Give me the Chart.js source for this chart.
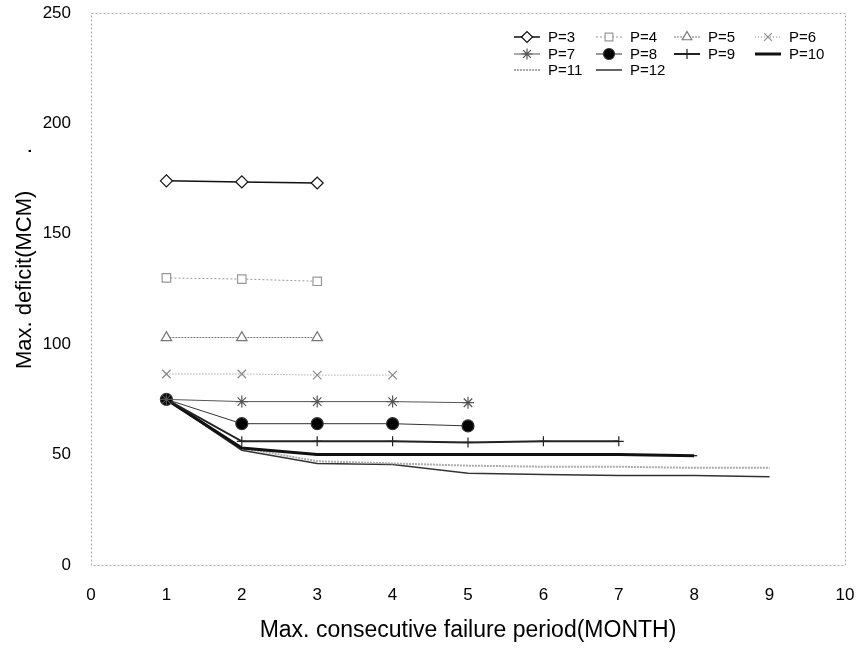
<!DOCTYPE html>
<html>
<head>
  <meta charset="utf-8">
  <title>Max. deficit</title>
  <script src="https://cdn.jsdelivr.net/npm/chart.js@4.4.0/dist/chart.umd.min.js"></script>
  <style>
    html, body { margin: 0; padding: 0; background: #ffffff; }
    #wrap { width: 861px; height: 648px; }
  </style>
</head>
<body>
<div id="wrap"><canvas id="myChart" width="861" height="648"></canvas></div>
<script>
  // months on the x axis (1..9)
  let months = [1, 2, 3, 4, 5, 6, 7, 8, 9];
  let xTicks = [0, 1, 2, 3, 4, 5, 6, 7, 8, 9, 10];
  let yTicks = [0, 50, 100, 150, 200, 250];

  let labels = ["P=3", "P=4", "P=5", "P=6", "P=7", "P=8", "P=9", "P=10", "P=11", "P=12"];
  let p3 = [174, 173.5, 173];
  let p4 = [130, 129.5, 128.5];
  let p5 = [103, 103, 103];
  let p6 = [86.5, 86.5, 86, 86];
  let p7 = [75, 74, 74, 74, 73.5];
  let p8 = [75, 64, 64, 64, 63];
  let p9 = [75, 56, 56, 56, 55.5, 56, 56];
  let p10 = [75, 53, 50, 50, 50, 50, 50, 49.5];
  let p11 = [75, 53, 47, 46, 45, 44.5, 44.5, 44, 44];
  let p12 = [75, 52, 46, 45.5, 41.5, 41, 40.5, 40.5, 40];
  let series = [p3, p4, p5, p6, p7, p8, p9, p10, p11, p12];

  const FONT = "'Liberation Sans', Arial, sans-serif";

  let styles = [
    { color: "#111", width: 1.5, dash: [], point: "rectRot", radius: 6, fill: "#fff" },
    { color: "#999", width: 1, dash: [2, 2], point: "rect", radius: 6, fill: "#fff" },
    { color: "#777", width: 1, dash: [2, 1], point: "triangle", radius: 6, fill: "#fff" },
    { color: "#888", width: 1, dash: [1, 2], point: "crossRot", radius: 6, fill: "#fff" },
    { color: "#555", width: 1, dash: [], point: "star", radius: 6, fill: "#555" },
    { color: "#333", width: 1, dash: [], point: "circle", radius: 6, fill: "#000" },
    { color: "#222", width: 2, dash: [], point: "cross", radius: 5, fill: "#222" },
    { color: "#111", width: 3, dash: [], point: "line", radius: 3, fill: "#111" },
    { color: "#aaa", width: 2, dash: [2, 1], point: "circle", radius: 0, fill: "#aaa" },
    { color: "#333", width: 1.5, dash: [], point: "circle", radius: 0, fill: "#333" }
  ];

  let datasets = series.map((vals, i) => ({
    label: labels[i],
    data: vals.map((v, j) => ({ x: months[j], y: v })),
    borderColor: styles[i].color,
    backgroundColor: styles[i].fill,
    borderWidth: styles[i].width,
    borderDash: styles[i].dash,
    pointStyle: styles[i].point,
    pointRadius: styles[i].radius,
    pointBorderColor: styles[i].color,
    pointBackgroundColor: styles[i].fill,
    pointBorderWidth: 1.2,
    tension: 0
  }));

  // dotted frame round the plot area
  const framePlugin = {
    id: "frame",
    beforeDatasetsDraw(chart) {
      const a = chart.chartArea, c = chart.ctx;
      c.save();
      c.strokeStyle = "#aaa";
      c.lineWidth = 1;
      c.setLineDash([2, 2]);
      c.strokeRect(a.left + 0.5, a.top + 0.5, a.right - a.left, a.bottom - a.top);
      c.restore();
    }
  };

  // legend in 4 columns inside the plot, top right
  const legendPlugin = {
    id: "boxLegend",
    afterDraw(chart) {
      const c = chart.ctx;
      const colX = [514, 596, 674, 755];
      const rowY = [37, 54, 70];
      c.save();
      c.font = "15px " + FONT;
      c.textBaseline = "middle";
      chart.data.datasets.forEach((ds, i) => {
        const x = colX[i % 4], y = rowY[Math.floor(i / 4)];
        c.strokeStyle = ds.borderColor;
        c.lineWidth = ds.borderWidth;
        c.setLineDash(ds.borderDash);
        c.beginPath();
        c.moveTo(x, y);
        c.lineTo(x + 26, y);
        c.stroke();
        c.setLineDash([]);
        if (ds.pointRadius > 0) {
          c.fillStyle = ds.pointBackgroundColor;
          c.strokeStyle = ds.pointBorderColor;
          c.lineWidth = 1.2;
          Chart.helpers.drawPoint(c, { pointStyle: ds.pointStyle, radius: Math.min(ds.pointRadius, 5.5), borderWidth: 1.2 }, x + 13, y);
        }
        c.fillStyle = "#000";
        c.fillText(ds.label, x + 34, y + 1);
      });
      c.restore();
    }
  };

  var ctx = document.getElementById("myChart").getContext("2d");
  var myChart = new Chart(ctx, {
    type: "line",
    data: { datasets: datasets },
    options: {
      responsive: false,
      animation: false,
      layout: { padding: { top: 13, right: 16, left: 0, bottom: 0 } },
      plugins: { legend: { display: false }, tooltip: { enabled: false } },
      scales: {
        x: {
          type: "linear",
          min: 0, max: 10,
          afterBuildTicks: s => { s.ticks = xTicks.map(v => ({ value: v })); },
          afterFit: s => { s.height = 83; s.paddingLeft = 0; s.paddingRight = 0; },
          grid: { display: false },
          border: { display: false },
          ticks: { color: "#000", padding: 12, font: { size: 17, family: FONT } },
          title: { display: true, text: "Max. consecutive failure period(MONTH)", color: "#000", padding: { top: 6 },
                   font: { size: 23, family: FONT } }
        },
        y: {
          min: 0, max: 250,
          afterBuildTicks: s => { s.ticks = yTicks.map(v => ({ value: v })); },
          afterFit: s => { s.width = 91; s.paddingTop = 0; s.paddingBottom = 0; },
          grid: { display: false },
          border: { display: false },
          ticks: { color: "#000", padding: 12, font: { size: 17, family: FONT } },
          title: { display: true, text: "          Max. deficit(MCM)      .", color: "#000", padding: { top: 12, bottom: 0 },
                   font: { size: 22, family: FONT } }
        }
      }
    },
    plugins: [framePlugin, legendPlugin]
  });
</script>
</body>
</html>
